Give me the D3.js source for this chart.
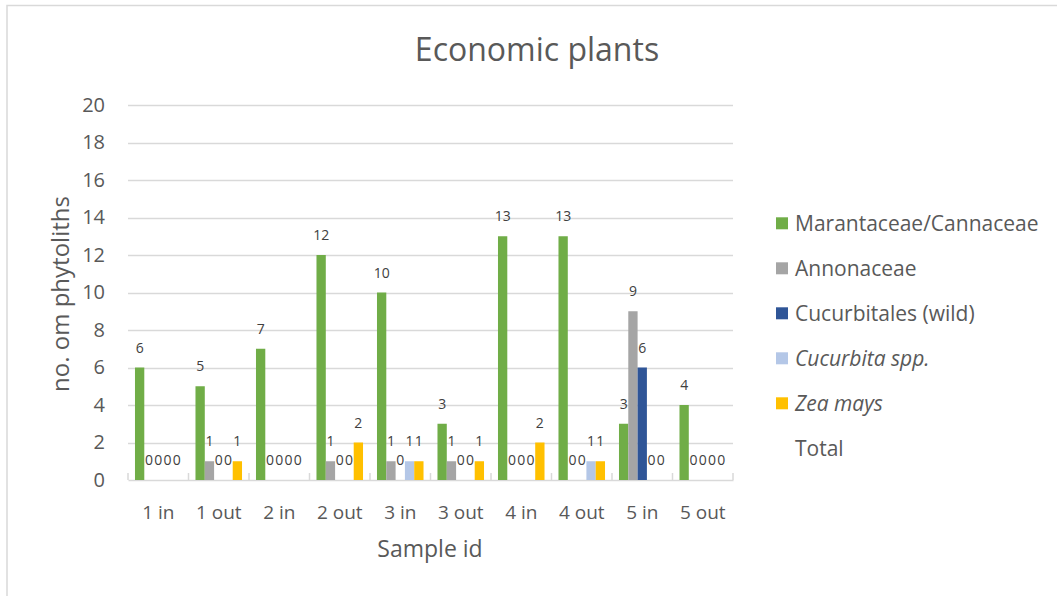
<!DOCTYPE html>
<html>
<head>
<meta charset="utf-8">
<script src="https://cdn.jsdelivr.net/npm/d3@7"></script>
<style>
  html, body { margin: 0; padding: 0; background: #ffffff; }
  svg { display: block; font-family: "Open Sans", Lato, sans-serif; }
</style>
</head>
<body>
<svg id="chart" width="1057" height="596"></svg>
<script>
// Sample ids along the x axis
const categories = ["1 in", "1 out", "2 in", "2 out", "3 in", "3 out", "4 in", "4 out", "5 in", "5 out"];

// Phytolith counts per taxon
const marantaceae = [6, 5, 7, 12, 10, 3, 13, 13, 3, 4];
const annonaceae = [0, 1, 0, 1, 1, 1, 0, 0, 9, 0];
const cucurbitalesWild = [0, 0, 0, 0, 0, 0, 0, 0, 6, 0];
const cucurbitaSpp = [0, 0, 0, 0, 1, 0, 0, 1, 0, 0];
const zeaMays = [0, 1, 0, 2, 1, 1, 2, 1, 0, 0];

const yTicks = [0, 2, 4, 6, 8, 10, 12, 14, 16, 18, 20];

const series = [
  { name: "Marantaceae/Cannaceae", values: marantaceae, color: "#70ad47", italic: false },
  { name: "Annonaceae", values: annonaceae, color: "#a5a5a5", italic: false },
  { name: "Cucurbitales (wild)", values: cucurbitalesWild, color: "#2f5597", italic: false },
  { name: "Cucurbita spp.", values: cucurbitaSpp, color: "#b4c7e7", italic: true },
  { name: "Zea mays", values: zeaMays, color: "#ffc000", italic: true }
];
// "Total" appears in the legend only, without a swatch
const legendItems = series.map(s => ({ name: s.name, color: s.color, italic: s.italic }))
  .concat([{ name: "Total", color: null, italic: false }]);

const svg = d3.select("#chart");
const textColor = "#595959";
const gridColor = "#d9d9d9";
const font = "'Open Sans', Lato, sans-serif";

// Chart frame
svg.append("rect")
  .attr("x", 7).attr("y", 5.5)
  .attr("width", 1100).attr("height", 700)
  .attr("fill", "none").attr("stroke", gridColor).attr("stroke-width", 1.5);

const plot = { left: 128, right: 733, top: 105, bottom: 480 };

const x = d3.scaleBand().domain(categories).range([plot.left, plot.right]).paddingInner(0).paddingOuter(0);
const xs = d3.scaleBand().domain(series.map(s => s.name)).range([0, x.bandwidth()]).paddingInner(0).paddingOuter(0.75);
const y = d3.scaleLinear().domain([0, 20]).range([plot.bottom, plot.top]);

// Title
svg.append("text")
  .attr("x", 537).attr("y", 61)
  .attr("text-anchor", "middle")
  .attr("fill", textColor)
  .style("font-size", "32px")
  .text("Economic plants");

// Horizontal gridlines
svg.append("g").selectAll("line")
  .data(yTicks.filter(t => t > 0))
  .join("line")
  .attr("x1", plot.left).attr("x2", plot.right)
  .attr("y1", d => Math.round(y(d)) + 0.5).attr("y2", d => Math.round(y(d)) + 0.5)
  .attr("stroke", gridColor).attr("stroke-width", 1.5);

// Y axis labels
const yAxis = d3.axisLeft(y).tickValues(yTicks).tickSize(0).tickPadding(0);
const gy = svg.append("g").attr("transform", `translate(${plot.left - 23},0)`).call(yAxis);
gy.select(".domain").remove();
gy.selectAll("text")
  .attr("fill", textColor)
  .style("font-size", "20px")
  .style("font-family", font);

// X axis line with inner category ticks
const xAxis = d3.axisBottom(x).tickSize(0).tickPadding(0);
const gx = svg.append("g").attr("transform", `translate(0,${plot.bottom})`).call(xAxis);
gx.select(".domain").attr("stroke", gridColor).attr("stroke-width", 1.5);
gx.selectAll("text")
  .attr("y", 39)
  .attr("dy", null)
  .attr("fill", textColor)
  .style("font-size", "19px")
  .style("font-family", font);
const boundaries = categories.map(c => x(c)).concat([plot.right]);
svg.append("g").selectAll("line")
  .data(boundaries)
  .join("line")
  .attr("x1", d => d).attr("x2", d => d)
  .attr("y1", plot.bottom).attr("y2", plot.bottom - 7)
  .attr("stroke", gridColor).attr("stroke-width", 1.5);

// Bars
const groups = svg.append("g").selectAll("g")
  .data(series)
  .join("g")
  .attr("fill", d => d.color);

groups.selectAll("rect")
  .data(s => s.values.map((v, i) => ({ s, v, c: categories[i] })))
  .join("rect")
  .attr("x", d => x(d.c) + xs(d.s.name))
  .attr("width", xs.bandwidth())
  .attr("y", d => y(d.v))
  .attr("height", d => y(0) - y(d.v));

// Value labels above every bar
svg.append("g").selectAll("g")
  .data(series)
  .join("g")
  .selectAll("text")
  .data(s => s.values.map((v, i) => ({ s, v, c: categories[i] })))
  .join("text")
  .attr("x", d => x(d.c) + xs(d.s.name) + xs.bandwidth() / 2)
  .attr("y", d => y(d.v) - 15)
  .attr("text-anchor", "middle")
  .attr("fill", "#404040")
  .style("font-size", "14px")
  .text(d => d.v);

// Axis titles
svg.append("text")
  .attr("x", 430).attr("y", 557)
  .attr("text-anchor", "middle")
  .attr("fill", textColor)
  .style("font-size", "23px")
  .text("Sample id");

svg.append("text")
  .attr("transform", "translate(69,294) rotate(-90)")
  .attr("text-anchor", "middle")
  .attr("fill", textColor)
  .style("font-size", "24px")
  .text("no. om phytoliths");

// Legend
const legend = svg.append("g").selectAll("g")
  .data(legendItems)
  .join("g")
  .attr("transform", (d, i) => `translate(776,${223.3 + i * 45})`);

legend.filter(d => d.color)
  .append("rect")
  .attr("x", 0).attr("y", -6)
  .attr("width", 12).attr("height", 12)
  .attr("fill", d => d.color);

legend.append("text")
  .attr("x", 19).attr("y", 0)
  .attr("dominant-baseline", "central")
  .attr("fill", textColor)
  .style("font-size", "21px")
  .style("font-style", d => d.italic ? "italic" : "normal")
  .text(d => d.name);
</script>
</body>
</html>
